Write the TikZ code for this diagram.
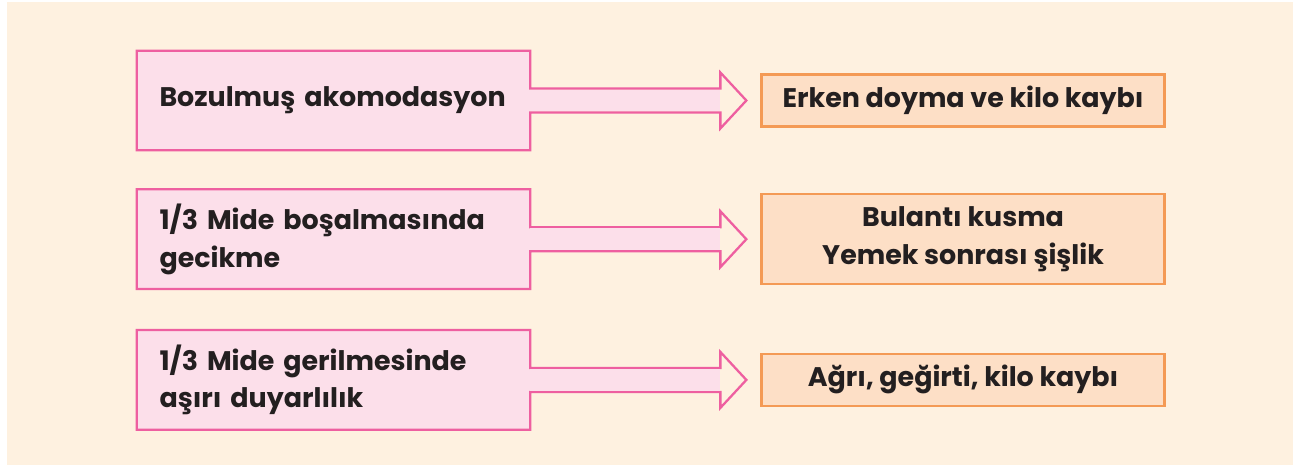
\documentclass[tikz,border=0pt]{standalone}
\usepackage{fontspec}
\setmainfont{Poppins}
\usetikzlibrary{positioning}
\definecolor{bgcream}{HTML}{FEF1E0}
\definecolor{causefill}{HTML}{FCDFEA}
\definecolor{causeline}{HTML}{EE5FA0}
\definecolor{effectfill}{HTML}{FDDFC6}
\definecolor{effectline}{HTML}{F49A55}
\definecolor{inkdark}{HTML}{231F20}

\begin{document}
\begin{tikzpicture}[
    every node/.style={text=inkdark, font=\bfseries\fontsize{15.3}{21.4}\selectfont},
    causebox/.style={fill=causefill, minimum width=7.86cm, minimum height=1.98cm,
        text width=6.96cm, align=left, inner sep=0pt,
        execute at begin node={\hyphenpenalty=10000 \hbadness=10000}},
    effectbox/.style={draw=effectline, line width=1.4pt, fill=effectfill,
        minimum width=8.06cm, inner sep=0pt, align=center},
    causearrow/.style={draw=causeline, line width=1.3pt, line join=miter}
]
    \newlength\shafthalf
    \newlength\headhalf
    \newlength\headlen
    \setlength\shafthalf{.24cm}
    \setlength\headhalf{.56cm}
    \setlength\headlen{.52cm}

    \useasboundingbox (0,0) rectangle (25.86,-9.3);
    \fill[bgcream] (0.14,-0.04) rectangle (25.86,-9.3);

    % CAUSES
    \node [causebox] (cause1) at (6.67,-2.01) {Bozulmuş akomodasyon};
    \node [causebox, below = .78cm of cause1] (cause2)
        {1/3 Mide boşalmasında\\gecikme};
    \node [causebox, below = .82cm of cause2] (cause3)
        {1/3 Mide gerilmesinde\\aşırı duyarlılık};

    % EFFECTS
    \node [effectbox, minimum height=1.04cm, right = 4.6cm of cause1] (effect1)
        {Erken doyma ve kilo kaybı};
    \node [effectbox, minimum height=1.8cm, right = 4.6cm of cause2] (effect2)
        {Bulantı kusma\\Yemek sonrası şişlik};
    \node [effectbox, minimum height=1.04cm, right = 4.6cm of cause3] (effect3)
        {Ağrı, geğirti, kilo kaybı};

    % Box and arrow outlines
    \foreach \idx in {1, 2, 3} {
        \coordinate (tip\idx) at ([xshift=-.28cm]effect\idx.west);
        \draw[causearrow]
            (cause\idx.north west) -- (cause\idx.north east)
            -- ([yshift=\shafthalf]cause\idx.east)
            -- ([xshift=-\headlen, yshift=\shafthalf]tip\idx)
            -- ([xshift=-\headlen, yshift=\headhalf]tip\idx)
            -- (tip\idx)
            -- ([xshift=-\headlen, yshift=-\headhalf]tip\idx)
            -- ([xshift=-\headlen, yshift=-\shafthalf]tip\idx)
            -- ([yshift=-\shafthalf]cause\idx.east)
            -- (cause\idx.south east) -- (cause\idx.south west) -- cycle;
        \fill[causefill]
            ([yshift=\shafthalf-.65pt]cause\idx.east)
            -- ([xshift=-\headlen, yshift=\shafthalf-.65pt]tip\idx)
            -- ([xshift=-\headlen, yshift=-\shafthalf+.65pt]tip\idx)
            -- ([yshift=-\shafthalf+.65pt]cause\idx.east) -- cycle;
    }
\end{tikzpicture}
\end{document}
